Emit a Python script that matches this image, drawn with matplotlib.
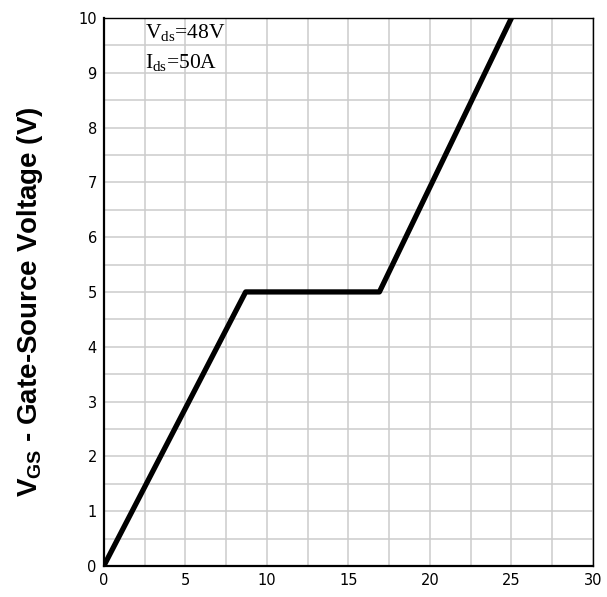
import matplotlib
matplotlib.use('Agg')
import matplotlib.pyplot as plt
import numpy as np

# gate charge curve
qg = [0, 8.7, 16.9, 25.0]
vgs = [0, 5.0, 5.0, 10.0]
xticks = [0, 5, 10, 15, 20, 25, 30]
yticks = list(range(0, 11))

plt.rcParams['mathtext.fontset'] = 'custom'
plt.rcParams['mathtext.bf'] = 'Liberation Sans:bold'

fig = plt.figure(figsize=(6.07, 5.97), dpi=100)
ax = fig.add_axes([0.171, 0.052, 0.806, 0.918])

ax.plot(qg, vgs, color='black', lw=3.8, solid_capstyle='butt', zorder=3)

ax.set_xlim(0, 30)
ax.set_ylim(0, 10)
ax.set_xticks(xticks)
ax.set_yticks(yticks)
ax.set_xticks(np.arange(0, 30.1, 2.5), minor=True)
ax.set_yticks(np.arange(0, 10.1, 0.5), minor=True)
ax.grid(True, which='both', color='#cccccc', lw=1.1, zorder=0)
ax.tick_params(which='both', length=0)
ax.tick_params(axis='x', pad=5, labelsize=10.5)
ax.tick_params(axis='y', pad=5, labelsize=10.5)
for s in ax.spines.values():
    s.set_color('black')
    s.set_linewidth(1.0)
ax.spines['left'].set_linewidth(1.6)
ax.spines['bottom'].set_linewidth(1.6)

fig.text(0.049, 0.494, r'V$_{\mathbf{GS}}$ - Gate-Source Voltage (V)', family='Liberation Sans',
         fontweight='bold', fontsize=20, rotation=90, ha='center', va='center')

ax.text(2.5, 9.72, r'V$_{\mathregular{ds}}$=48V', family='Liberation Serif', fontsize=15.5,
        va='center', ha='left')
ax.text(2.5, 9.18, r'I$_{\mathregular{ds}}$=50A', family='Liberation Serif', fontsize=15.5,
        va='center', ha='left')

fig.savefig('out.png', dpi=100)
